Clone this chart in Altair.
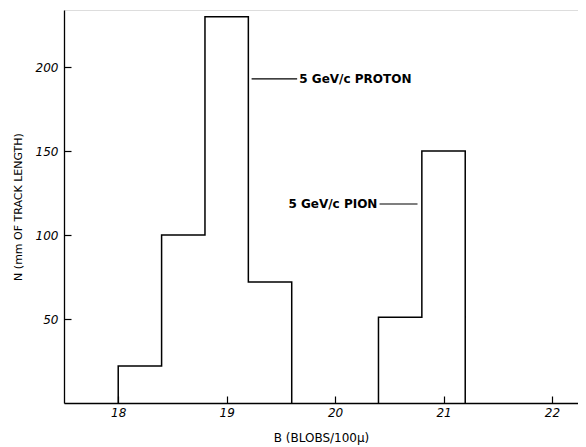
import altair as alt
import pandas as pd

# Histogram bins (left edges) and counts
proton_edges = [18.0, 18.4, 18.8, 19.2, 19.6]
proton_counts = [22, 100, 230, 72]
pion_edges = [20.4, 20.8, 21.2]
pion_counts = [51, 150]

x_ticks = [18, 19, 20, 21, 22]
y_ticks = [50, 100, 150, 200]

W, H = 514, 393
X_DOM = [17.5, 22.24]
Y_DOM = [0, 234]


def outline(edges, counts, name):
    pts = [(edges[0], 0)]
    for i, c in enumerate(counts):
        pts.append((edges[i], c))
        pts.append((edges[i + 1], c))
    pts.append((edges[-1], 0))
    return [{"x": x, "y": y, "o": k, "s": name} for k, (x, y) in enumerate(pts)]


rows = outline(proton_edges, proton_counts, "proton") + outline(pion_edges, pion_counts, "pion")
df = pd.DataFrame(rows)

xs = alt.Scale(domain=X_DOM, nice=False, zero=False)
ys = alt.Scale(domain=Y_DOM, nice=False)

FONT = "DejaVu Sans"
INWARD = alt.ExprRef(expr="-7")

hist = alt.Chart(df).mark_line(color="black", strokeWidth=1.5, interpolate="linear").encode(
    x=alt.X("x:Q", scale=xs,
            axis=alt.Axis(values=x_ticks, format="d", title="B (BLOBS/100\u03bc)", grid=False,
                          tickSize=INWARD, tickColor="black", tickWidth=1.2,
                          labelPadding=11, labelFont=FONT, labelFontStyle="italic", labelFontSize=12,
                          labelColor="black", domainColor="black", domainWidth=1.3,
                          titleFont=FONT, titleFontSize=12, titleFontWeight="normal",
                          titleColor="black", titlePadding=14)),
    y=alt.Y("y:Q", scale=ys,
            axis=alt.Axis(values=y_ticks, format="d", title="N (mm OF TRACK LENGTH)", grid=False,
                          tickSize=INWARD, tickColor="black", tickWidth=1.2,
                          labelPadding=13, labelFont=FONT, labelFontStyle="italic", labelFontSize=12,
                          labelColor="black", domainColor="black", domainWidth=1.3,
                          titleFont=FONT, titleFontSize=11, titleFontWeight="normal",
                          titleColor="black", titlePadding=12)),
    detail="s:N",
    order="o:Q",
)

# annotation leader lines and labels
lead = pd.DataFrame({
    "x1": [19.23, 20.41], "x2": [19.65, 20.76], "y": [193, 118.5],
})
leaders = alt.Chart(lead).mark_rule(color="black", strokeWidth=1.2).encode(
    x=alt.X("x1:Q", scale=xs), x2="x2:Q", y=alt.Y("y:Q", scale=ys))

lab = pd.DataFrame({
    "x": [19.67, 20.39], "y": [193, 118.5],
    "label": ["5 GeV/c   PROTON", "5  GeV/c  PION"],
})
lab_p = alt.Chart(lab.iloc[[0]]).mark_text(align="left", baseline="middle", font=FONT,
                                            fontSize=12, fontWeight="bold", color="black").encode(
    x=alt.X("x:Q", scale=xs), y=alt.Y("y:Q", scale=ys), text="label:N")
lab_q = alt.Chart(lab.iloc[[1]]).mark_text(align="right", baseline="middle", font=FONT,
                                            fontSize=12, fontWeight="bold", color="black").encode(
    x=alt.X("x:Q", scale=xs), y=alt.Y("y:Q", scale=ys), text="label:N")

chart = alt.layer(hist, leaders, lab_p, lab_q).properties(
    width=W, height=H,
    autosize=alt.AutoSizeParams(type="none"),
    padding={"left": 56, "top": 2, "right": 0, "bottom": 44},
).configure_view(stroke=None).configure(background="white")

chart.save("out.html", embed_options={"renderer": "svg", "actions": False})
